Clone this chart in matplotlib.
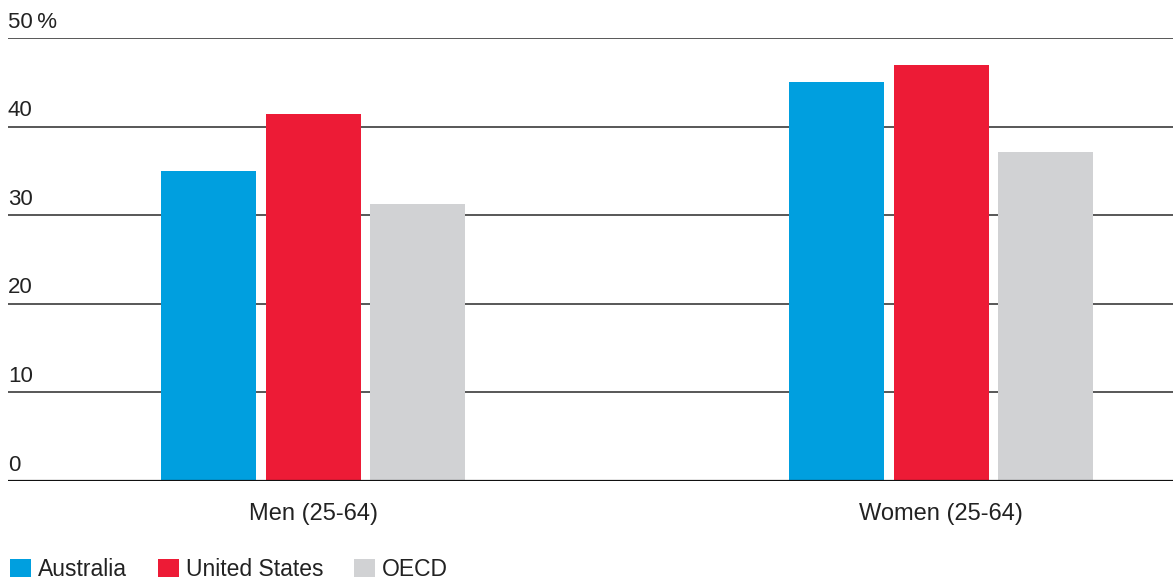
import numpy as np
import matplotlib
matplotlib.use("Agg")
import matplotlib.pyplot as plt
from matplotlib.patches import Patch

# Données (%)
groupes = ["Men (25-64)", "Women (25-64)"]
series = ["Australia", "United States", "OECD"]
australia = [35.0, 45.0]
united_states = [41.4, 46.9]
oecd = [31.3, 37.1]
y_ticks = [0, 10, 20, 30, 40, 50]
y_labels = ["0", "10", "20", "30", "40", "50\u2009%"]

couleurs = ["#009FDF", "#ED1B36", "#D1D2D4"]

plt.rcParams["font.family"] = ["Liberation Sans", "DejaVu Sans"]
texte = "#222222"

fig = plt.figure(figsize=(11.73, 5.82), dpi=100)
ax = fig.add_axes([8 / 1173, 1 - 481 / 582, 1 - 8 / 1173, (481 - 38) / 582])

x = np.arange(len(groupes))
largeur = 0.151
pas = 0.1664
for i, (vals, c) in enumerate(zip([australia, united_states, oecd], couleurs)):
    ax.bar(x + (i - 1) * pas, vals, width=largeur, color=c, zorder=3, linewidth=0)

# Lignes horizontales + étiquettes au-dessus
for v, lab in zip(y_ticks, y_labels):
    if v == 0:
        ax.axhline(v, color="#111111", linewidth=1.6, zorder=4)
    else:
        ax.axhline(v, color="#2a2a2a", linewidth=1.1, zorder=1)
    ax.annotate(lab, xy=(0, v), xycoords=("axes fraction", "data"),
                xytext=(0, 7.5), textcoords="offset points",
                ha="left", va="baseline", fontsize=16, color=texte,
                annotation_clip=False)

ax.set_xlim(-0.486, 1.369)
ax.set_ylim(0, 50)
ax.set_yticks([])
ax.set_xticks(x)
ax.set_xticklabels(groupes, fontsize=17, color=texte)
ax.tick_params(axis="x", length=0, pad=16)
for s in ax.spines.values():
    s.set_visible(False)

handles = [Patch(facecolor=c, edgecolor="none") for c in couleurs]
fig.legend(handles, series, loc="lower left", bbox_to_anchor=(10 / 1173, 0.002),
           ncol=3, frameon=False, fontsize=16.5, handlelength=0.92,
           handleheight=0.88, handletextpad=0.3, columnspacing=1.35,
           borderpad=0, borderaxespad=0, labelcolor=texte)

fig.savefig("out.png", dpi=100)
